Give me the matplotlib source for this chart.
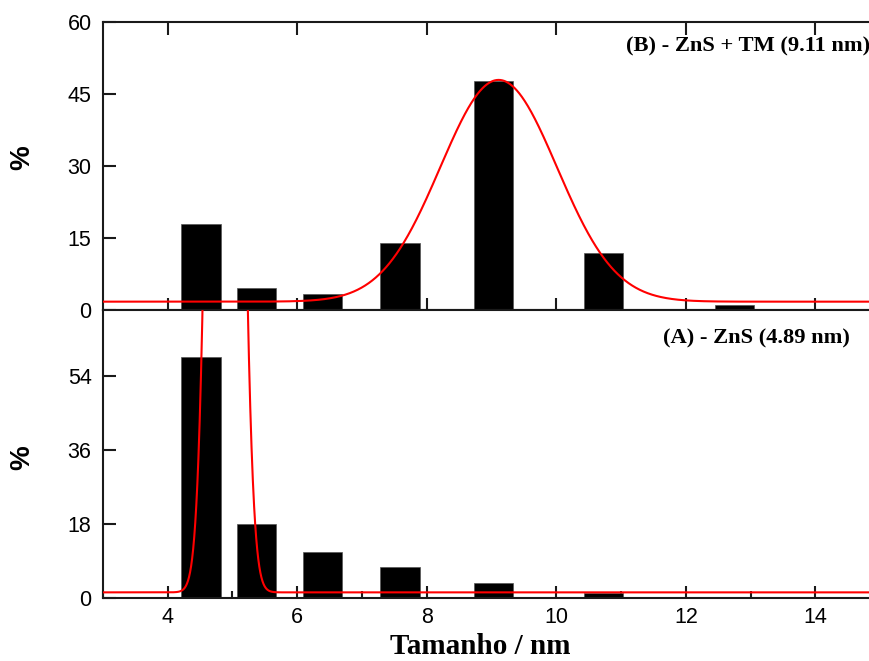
import numpy as np
import matplotlib
matplotlib.use("Agg")
import matplotlib.pyplot as plt
from matplotlib.ticker import MultipleLocator

# Data
bin_centers = [4.52, 5.37, 6.39, 7.59, 9.03, 10.73, 12.75]
pct_B = [18.0, 4.6, 3.4, 14.0, 47.8, 11.9, 1.2]
pct_A = [58.7, 17.9, 11.1, 7.5, 3.5, 1.1, 0.2]
bar_width = 0.61

# Gaussian fits: (y0, A, xc, sigma)
fit_B = (1.8, 46.2, 9.11, 0.90)
fit_A = (1.3, 455.0, 4.89, 0.18)

label_B = "(B) - ZnS + TM (9.11 nm)"
label_A = "(A) - ZnS (4.89 nm)"
xlabel = "Tamanho / nm"
ylabel = "%"
yticks_B = [0, 15, 30, 45, 60]
yticks_A = [0, 18, 36, 54]

W, H = 869, 661
fig = plt.figure(figsize=(W/100, H/100), dpi=100)

left = 102.7 / W
width = 777.6 / W
axB = fig.add_axes([left, 350.7 / H, width, 288.0 / H])
axA = fig.add_axes([left, 63.3 / H, width, 287.4 / H])

x = np.linspace(3, 15, 3000)

def gauss(x, p):
    y0, A, xc, s = p
    return y0 + A * np.exp(-(x - xc) ** 2 / (2 * s ** 2))

for ax, pct, fit, ylim, yt in [(axB, pct_B, fit_B, 60, yticks_B),
                               (axA, pct_A, fit_A, 70, yticks_A)]:
    ax.bar(bin_centers, pct, width=bar_width, color="black",
           edgecolor="#555555", linewidth=0.5, zorder=2)
    ax.plot(x, gauss(x, fit), color="red", lw=1.5, zorder=3)
    ax.set_xlim(3, 15)
    ax.set_ylim(0, ylim)
    ax.set_yticks(yt)
    ax.xaxis.set_major_locator(MultipleLocator(2))
    for sp in ax.spines.values():
        sp.set_linewidth(1.5)
        sp.set_color("#1a1a1a")
    ax.tick_params(axis="both", direction="in", width=1.5, length=9,
                   labelsize=15.5, color="#1a1a1a", top=True, right=False)
    ax.tick_params(axis="y", pad=8)
    ax.tick_params(axis="x", pad=7)
    for lab in ax.get_yticklabels() + ax.get_xticklabels():
        lab.set_fontfamily("Liberation Sans")

axB.tick_params(axis="x", labelbottom=False)
axA.xaxis.set_minor_locator(MultipleLocator(1))
axA.tick_params(axis="x", which="minor", direction="in", width=1.5, length=5,
                top=False, color="#1a1a1a")
axA.tick_params(axis="x", top=False)

# y labels
fig.text(22 / W, 1 - 157.5 / H, ylabel, fontsize=20, fontweight="bold",
         family="Liberation Sans", rotation=90, ha="center", va="center")
fig.text(22 / W, 1 - 457.5 / H, ylabel, fontsize=20, fontweight="bold",
         family="Liberation Sans", rotation=90, ha="center", va="center")

fig.text(480 / W, (661 - 654) / H, xlabel, fontsize=21, fontweight="bold",
         family="Liberation Serif", ha="center", va="baseline")

fig.text(626 / W, 1 - 46 / H, label_B, fontsize=16.2, fontweight="bold",
         family="Liberation Serif", ha="left", va="center")
fig.text(663 / W, 1 - 338 / H, label_A, fontsize=16.2, fontweight="bold",
         family="Liberation Serif", ha="left", va="center")

fig.savefig("out.png", dpi=100)
